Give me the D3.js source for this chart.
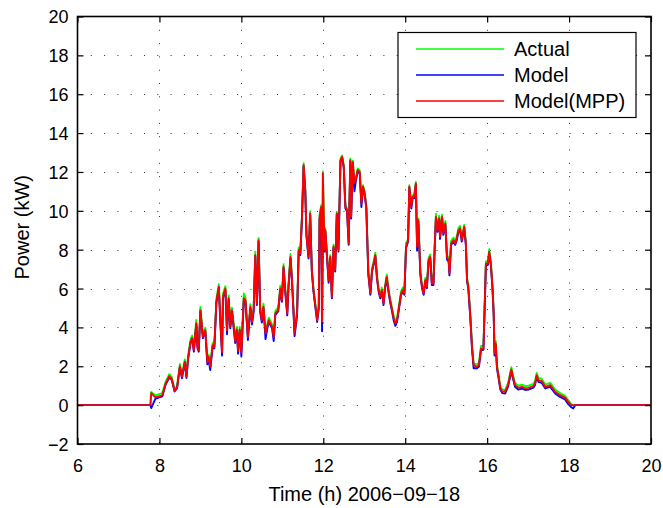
<!DOCTYPE html>
<html>
<head>
<meta charset="utf-8">
<script src="https://cdn.jsdelivr.net/npm/d3@7.9.0/dist/d3.min.js"></script>
<style>
  body { margin: 0; background: #fff; }
  svg { display: block; font-family: "Liberation Sans", Arial, Helvetica, sans-serif; }
</style>
</head>
<body>
<svg width="663" height="508"></svg>
<script>
// time of day (h) on 2006-09-18
const hours = [
  6.00, 7.78, 7.80, 7.90, 8.07, 8.15, 8.24, 8.30, 8.37, 8.43,
  8.50, 8.55, 8.62, 8.66, 8.70, 8.76, 8.80, 8.84, 8.90, 8.93,
  8.96, 9.00, 9.06, 9.12, 9.17, 9.20, 9.24, 9.30, 9.34, 9.39,
  9.45, 9.49, 9.53, 9.55, 9.61, 9.65, 9.69, 9.73, 9.77, 9.82,
  9.85, 9.89, 9.92, 9.96, 10.00, 10.06, 10.10, 10.16, 10.22, 10.26,
  10.30, 10.34, 10.38, 10.42, 10.46, 10.50, 10.54, 10.59, 10.63, 10.67,
  10.75, 10.79, 10.83, 10.90, 10.95, 10.99, 11.03, 11.07, 11.12, 11.15,
  11.20, 11.24, 11.30, 11.36, 11.40, 11.44, 11.48, 11.52, 11.56, 11.59,
  11.64, 11.68, 11.72, 11.76, 11.80, 11.85, 11.89, 11.91, 11.95, 11.97,
  11.99, 12.03, 12.05, 12.13, 12.17, 12.21, 12.25, 12.29, 12.33, 12.37,
  12.42, 12.46, 12.50, 12.54, 12.58, 12.62, 12.66, 12.68, 12.72, 12.76,
  12.80, 12.84, 12.89, 12.93, 12.97, 13.01, 13.05, 13.10, 13.15, 13.19,
  13.23, 13.27, 13.31, 13.35, 13.39, 13.43, 13.47, 13.51, 13.55, 13.59,
  13.63, 13.68, 13.72, 13.76, 13.80, 13.85, 13.90, 13.94, 13.98, 14.02,
  14.07, 14.10, 14.15, 14.18, 14.22, 14.26, 14.29, 14.32, 14.37, 14.41,
  14.45, 14.49, 14.53, 14.57, 14.61, 14.65, 14.69, 14.72, 14.75, 14.79,
  14.83, 14.85, 14.90, 14.93, 14.98, 15.02, 15.06, 15.08, 15.12, 15.18,
  15.22, 15.26, 15.30, 15.34, 15.38, 15.44, 15.48, 15.51, 15.54, 15.59,
  15.63, 15.67, 15.75, 15.80, 15.85, 15.91, 15.97, 16.02, 16.05, 16.09,
  16.13, 16.16, 16.18, 16.21, 16.24, 16.28, 16.32, 16.37, 16.44, 16.51,
  16.59, 16.62, 16.68, 16.76, 16.85, 16.93, 17.01, 17.13, 17.17, 17.21,
  17.25, 17.33, 17.42, 17.54, 17.66, 17.78, 17.90, 17.98, 18.05, 18.10,
  18.15, 20.00
];

// measured power (kW)
const actual = [
  0, 0, 0.68, 0.50, 0.62, 1.20, 1.60, 1.45, 0.82, 1.00,
  2.12, 1.55, 2.35, 1.55, 2.55, 3.40, 3.58, 2.95, 4.38, 3.10,
  2.95, 5.05, 3.65, 3.98, 2.35, 2.60, 2.08, 3.20, 3.12, 5.48,
  6.22, 4.32, 2.85, 5.72, 6.12, 3.98, 5.65, 4.15, 5.02, 4.05,
  3.42, 4.02, 2.92, 4.02, 2.82, 5.75, 5.55, 3.62, 5.20, 4.40,
  5.00, 7.90, 5.35, 8.60, 5.00, 4.50, 5.22, 3.80, 4.15, 4.50,
  4.15, 3.62, 4.85, 5.02, 6.15, 5.52, 7.25, 6.05, 4.85, 6.20,
  7.78, 6.38, 3.80, 4.85, 8.12, 7.92, 9.80, 12.45, 11.18, 8.85,
  7.75, 9.98, 7.05, 6.02, 5.35, 4.50, 5.18, 9.80, 10.30, 4.42,
  12.02, 8.10, 9.10, 6.55, 7.72, 5.68, 8.25, 7.05, 9.95, 8.08,
  12.68, 12.85, 12.35, 10.30, 10.12, 8.42, 12.68, 9.78, 12.58, 11.50,
  11.75, 12.18, 12.08, 10.46, 11.32, 10.98, 10.28, 6.88, 5.85, 7.05,
  7.40, 7.85, 6.72, 6.02, 5.68, 6.05, 5.35, 6.20, 6.72, 6.02,
  5.50, 5.00, 4.58, 4.32, 4.48, 5.18, 5.88, 6.05, 5.85, 8.25,
  8.58, 11.32, 10.28, 10.80, 10.80, 11.48, 8.25, 9.60, 6.88, 6.18,
  5.88, 6.55, 6.20, 7.58, 7.75, 6.38, 6.38, 8.28, 9.85, 9.10,
  9.75, 8.78, 9.80, 8.95, 9.48, 7.75, 7.58, 6.88, 8.45, 8.62,
  8.45, 8.70, 9.12, 9.22, 8.60, 9.28, 8.42, 6.55, 6.20, 4.65,
  3.10, 2.15, 2.08, 2.18, 3.05, 3.05, 7.40, 7.42, 8.02, 7.40,
  6.20, 4.82, 2.78, 3.30, 2.08, 1.55, 1.00, 0.80, 0.78, 1.12,
  1.95, 1.66, 1.15, 1.00, 1.05, 0.98, 1.00, 1.10, 1.25, 1.66,
  1.40, 1.36, 1.06, 1.15, 0.80, 0.62, 0.48, 0.26, 0.05, 0.00,
  0, 0
];

// simulated power (kW)
const model = [
  0, 0, -0.15, 0.32, 0.45, 1.05, 1.42, 1.30, 0.70, 0.86,
  1.95, 1.38, 2.18, 1.40, 2.38, 3.20, 3.40, 2.75, 4.15, 2.92,
  2.75, 4.82, 3.45, 3.80, 2.10, 2.35, 1.80, 3.02, 2.92, 5.25,
  6.02, 4.12, 2.55, 5.50, 5.92, 3.65, 5.42, 3.95, 4.82, 3.80,
  3.20, 3.82, 2.65, 3.82, 2.50, 5.42, 5.32, 3.35, 4.98, 4.15,
  4.80, 7.65, 5.15, 8.42, 4.78, 4.25, 4.98, 3.40, 3.90, 4.28,
  3.95, 3.30, 4.65, 4.82, 5.92, 5.32, 7.05, 5.85, 4.62, 6.00,
  7.55, 6.18, 3.55, 4.62, 7.90, 7.72, 9.60, 12.28, 11.00, 8.68,
  7.55, 9.80, 6.88, 5.85, 5.15, 4.28, 4.98, 9.60, 9.40, 3.80,
  9.00, 7.90, 8.92, 6.30, 7.55, 5.50, 8.08, 6.88, 9.80, 7.90,
  12.55, 12.72, 12.20, 10.12, 9.96, 8.25, 12.55, 9.60, 12.45, 11.00,
  11.60, 12.02, 11.92, 10.20, 11.16, 10.82, 10.12, 6.70, 5.68, 6.88,
  7.22, 7.65, 6.52, 5.85, 5.50, 5.85, 5.15, 6.02, 6.52, 5.85,
  5.32, 4.80, 4.35, 4.08, 4.28, 4.98, 5.68, 5.85, 5.68, 8.08,
  8.42, 11.18, 10.12, 10.65, 10.65, 11.35, 7.95, 9.45, 6.70, 6.02,
  5.68, 6.35, 6.02, 7.38, 7.55, 6.18, 6.18, 8.08, 9.62, 8.92,
  9.55, 8.55, 9.62, 8.76, 9.28, 7.50, 7.38, 6.68, 8.25, 8.42,
  8.25, 8.50, 8.92, 9.02, 8.42, 9.10, 8.25, 6.35, 6.00, 4.45,
  2.90, 1.90, 1.90, 1.98, 2.82, 2.85, 7.20, 7.22, 7.80, 7.20,
  6.00, 4.62, 2.55, 3.08, 1.88, 1.38, 0.82, 0.62, 0.60, 0.95,
  1.76, 1.46, 0.95, 0.80, 0.85, 0.78, 0.80, 0.90, 1.04, 1.46,
  1.20, 1.15, 0.86, 0.94, 0.60, 0.42, 0.30, 0.05, -0.10, -0.17,
  0, 0
];

// simulated power at maximum power point (kW)
const modelMpp = [
  0, 0, 0.62, 0.40, 0.50, 1.10, 1.49, 1.35, 0.74, 0.90,
  2.00, 1.46, 2.23, 1.46, 2.42, 3.26, 3.45, 2.83, 4.22, 3.00,
  2.83, 4.89, 3.51, 3.86, 2.23, 2.49, 1.97, 3.09, 3.00, 5.32,
  6.09, 4.20, 2.74, 5.57, 6.00, 3.86, 5.50, 4.03, 4.89, 3.95,
  3.30, 3.90, 2.80, 3.90, 2.70, 5.50, 5.40, 3.51, 5.06, 4.29,
  4.89, 7.72, 5.23, 8.49, 4.89, 4.37, 5.06, 3.69, 4.03, 4.37,
  4.03, 3.51, 4.72, 4.89, 6.00, 5.40, 7.12, 5.92, 4.72, 6.09,
  7.63, 6.26, 3.69, 4.72, 7.98, 7.80, 9.69, 12.35, 11.07, 8.75,
  7.63, 9.87, 6.95, 5.92, 5.23, 4.37, 5.06, 9.69, 10.20, 4.30,
  11.93, 7.98, 9.00, 6.43, 7.63, 5.57, 8.15, 6.95, 9.87, 7.98,
  12.61, 12.78, 12.27, 10.20, 10.04, 8.32, 12.61, 9.69, 12.52, 11.41,
  11.67, 12.10, 12.00, 10.38, 11.24, 10.90, 10.20, 6.78, 5.75, 6.95,
  7.29, 7.72, 6.60, 5.92, 5.57, 5.92, 5.23, 6.09, 6.60, 5.92,
  5.40, 4.89, 4.46, 4.20, 4.37, 5.06, 5.75, 5.92, 5.75, 8.15,
  8.49, 11.24, 10.20, 10.72, 10.72, 11.41, 8.15, 9.52, 6.78, 6.09,
  5.75, 6.43, 6.09, 7.46, 7.63, 6.26, 6.26, 8.15, 9.69, 9.00,
  9.61, 8.66, 9.69, 8.84, 9.35, 7.63, 7.46, 6.78, 8.32, 8.49,
  8.32, 8.58, 9.00, 9.10, 8.49, 9.18, 8.32, 6.43, 6.09, 4.54,
  3.00, 2.06, 1.97, 2.06, 2.91, 2.91, 7.29, 7.29, 7.89, 7.29,
  6.09, 4.72, 2.66, 3.17, 1.97, 1.46, 0.90, 0.70, 0.69, 1.03,
  1.84, 1.54, 1.03, 0.89, 0.94, 0.86, 0.89, 0.98, 1.12, 1.54,
  1.29, 1.24, 0.94, 1.03, 0.69, 0.51, 0.39, 0.17, 0.00, 0.00,
  0, 0
];

const xTicks = [6, 8, 10, 12, 14, 16, 18, 20];
const yTicks = [-2, 0, 2, 4, 6, 8, 10, 12, 14, 16, 18, 20];

const seriesNames = ['Actual', 'Model', 'Model(MPP)'];
const seriesColors = ['#00ff00', '#0000ff', '#ff0000'];

const plotLeft = 77.5, plotRight = 651, plotTop = 16.5, plotBottom = 444;

const svg = d3.select('svg');
const x = d3.scaleLinear().domain([6, 20]).range([plotLeft, plotRight]);
const y = d3.scaleLinear().domain([-2, 20]).range([plotBottom, plotTop]);

// dotted grid
const grid = svg.append('g')
  .attr('stroke', '#333')
  .attr('stroke-width', 1)
  .attr('stroke-dasharray', '1,12.3');

grid.selectAll('line.gx')
  .data(xTicks.slice(1, -1))
  .join('line')
  .attr('class', 'gx')
  .attr('x1', d => Math.round(x(d)) + 0.5)
  .attr('x2', d => Math.round(x(d)) + 0.5)
  .attr('y1', plotTop)
  .attr('y2', plotBottom);

grid.selectAll('line.gy')
  .data(yTicks.slice(1, -1))
  .join('line')
  .attr('class', 'gy')
  .attr('x1', plotLeft)
  .attr('x2', plotRight)
  .attr('y1', d => Math.round(y(d)) + 0.5)
  .attr('y2', d => Math.round(y(d)) + 0.5);

// data lines, red on top
const line = d3.line()
  .x((d, i) => x(hours[i]))
  .y(d => y(d));

svg.append('g')
  .selectAll('path')
  .data([actual, model, modelMpp])
  .join('path')
  .attr('d', line)
  .attr('fill', 'none')
  .attr('stroke', (_, i) => seriesColors[i])
  .attr('stroke-width', 1.9)
  .attr('stroke-linejoin', 'round');

// axes with inward ticks on all four sides
const fmt = d3.format('');
function styleAxis(g) {
  g.select('.domain').remove();
  g.selectAll('.tick line').attr('stroke', '#000').attr('stroke-width', 1.2);
  g.selectAll('.tick text')
    .attr('fill', '#000')
    .style('font-size', '18px')
    .style('font-family', '"Liberation Sans", Arial, Helvetica, sans-serif');
}

svg.append('g')
  .attr('transform', `translate(0,${plotBottom})`)
  .call(d3.axisBottom(x).tickValues(xTicks).tickSizeInner(-6).tickSizeOuter(0).tickFormat(fmt))
  .call(styleAxis)
  .call(g => g.selectAll('.tick text').attr('y', 28).attr('dy', null));

svg.append('g')
  .attr('transform', `translate(0,${plotTop})`)
  .call(d3.axisTop(x).tickValues(xTicks).tickSizeInner(-6).tickSizeOuter(0).tickFormat(''))
  .call(styleAxis);

svg.append('g')
  .attr('transform', `translate(${plotLeft},0)`)
  .call(d3.axisLeft(y).tickValues(yTicks).tickSizeInner(-6).tickSizeOuter(0).tickPadding(10))
  .call(styleAxis)
  .call(g => g.selectAll('.tick text').attr('x', -9).attr('dy', '0.36em'));

svg.append('g')
  .attr('transform', `translate(${plotRight},0)`)
  .call(d3.axisRight(y).tickValues(yTicks).tickSizeInner(-6).tickSizeOuter(0).tickFormat(''))
  .call(styleAxis);

svg.append('rect')
  .attr('x', plotLeft)
  .attr('y', plotTop)
  .attr('width', plotRight - plotLeft)
  .attr('height', plotBottom - plotTop)
  .attr('fill', 'none')
  .attr('stroke', '#000')
  .attr('stroke-width', 1.6);

// axis labels
svg.append('text')
  .attr('x', (plotLeft + plotRight) / 2)
  .attr('y', 501)
  .attr('text-anchor', 'middle')
  .style('font-size', '20px')
  .text('Time (h) 2006\u221209\u221218');

svg.append('text')
  .attr('transform', `translate(29,${(plotTop + plotBottom) / 2 - 3}) rotate(-90)`)
  .attr('text-anchor', 'middle')
  .style('font-size', '20px')
  .text('Power (kW)');

// legend
const legend = svg.append('g');
legend.append('rect')
  .attr('x', 398)
  .attr('y', 32.5)
  .attr('width', 238)
  .attr('height', 85)
  .attr('fill', '#fff')
  .attr('stroke', '#000')
  .attr('stroke-width', 1.2);

const rows = legend.selectAll('g.row')
  .data(seriesNames)
  .join('g')
  .attr('class', 'row')
  .attr('transform', (_, i) => `translate(0,${49 + i * 26})`);

rows.append('line')
  .attr('x1', 416)
  .attr('x2', 504)
  .attr('stroke', (_, i) => seriesColors[i])
  .attr('stroke-width', 1.6);

rows.append('text')
  .attr('x', 514)
  .attr('y', 7)
  .style('font-size', '20px')
  .text(d => d);
</script>
</body>
</html>
